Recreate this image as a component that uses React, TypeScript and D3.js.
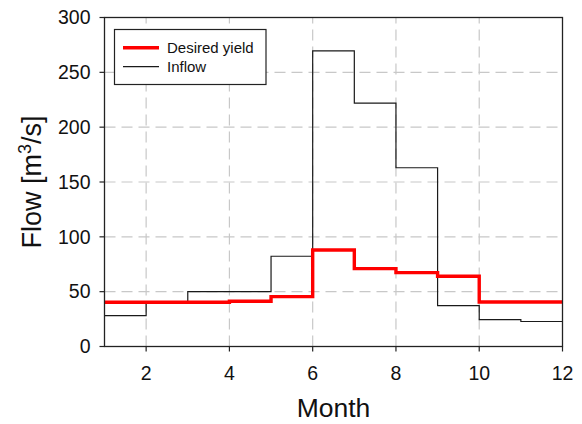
import React from "react";
import * as d3 from "d3";

// Monthly step values (value holds from month m to m+1; last point closes the step at month 12)
const months = [1, 2, 3, 4, 5, 6, 7, 8, 9, 10, 11, 12];
const desiredYield = [40.4, 40.4, 40.4, 41.3, 45.5, 88, 71, 67.4, 64, 40.6, 40.6, 40.6];
const inflow = [28.2, 41, 50, 50, 82.3, 269.5, 222, 163, 37.3, 24.5, 22.8, 22.8];
const xTicks = [2, 4, 6, 8, 10, 12];
const yTicks = [0, 50, 100, 150, 200, 250, 300];
const gridX = [2, 4, 6, 8, 10];
const gridY = [50, 100, 150, 200, 250];

const W = 582;
const H = 424;
const margin = { left: 104.5, right: 582 - 562.5, top: 17.5, bottom: 424 - 346.5 };
const FONT = "'Liberation Sans', Arial, sans-serif";

export default function App() {
  const x = d3.scaleLinear().domain([1, 12]).range([margin.left, W - margin.right]);
  const y = d3.scaleLinear().domain([0, 300]).range([H - margin.bottom, margin.top]);

  const line = d3
    .line<number>()
    .x((_, i) => x(months[i]))
    .y((d) => y(d))
    .curve(d3.curveStepAfter);

  const x0 = x(1);
  const x1 = x(12);
  const y0 = y(0);
  const y1 = y(300);

  return (
    <svg
      width={W}
      height={H}
      style={{ position: "absolute", left: 0, top: 0, background: "#fff" }}
      fontFamily={FONT}
    >
      {/* grid */}
      <g stroke="#c8c8c8" strokeWidth={1.2} strokeDasharray="11,6">
        {gridX.map((v) => (
          <line key={"gx" + v} x1={x(v)} x2={x(v)} y1={y0} y2={y1} />
        ))}
        {gridY.map((v) => (
          <line key={"gy" + v} x1={x0} x2={x1} y1={y(v)} y2={y(v)} />
        ))}
      </g>

      {/* series */}
      <path d={line(inflow) ?? ""} fill="none" stroke="#1a1a1a" strokeWidth={1.2} />
      <path d={line(desiredYield) ?? ""} fill="none" stroke="#ff0000" strokeWidth={3.4} />

      {/* frame */}
      <rect x={x0} y={y1} width={x1 - x0} height={y0 - y1} fill="none" stroke="#222" strokeWidth={1.3} />

      {/* y axis ticks and labels */}
      {yTicks.map((v) => (
        <g key={"yt" + v}>
          <line x1={x0 - 5} x2={x0} y1={y(v)} y2={y(v)} stroke="#222" strokeWidth={1.2} />
          <text x={x0 - 14} y={y(v)} dy="0.35em" textAnchor="end" fontSize={19.5} fill="#111">
            {v}
          </text>
        </g>
      ))}

      {/* x axis ticks and labels */}
      {xTicks.map((v) => (
        <g key={"xt" + v}>
          <line x1={x(v)} x2={x(v)} y1={y0} y2={y0 + 5} stroke="#222" strokeWidth={1.2} />
          <text x={x(v)} y={y0 + 33} textAnchor="middle" fontSize={19.5} fill="#111">
            {v}
          </text>
        </g>
      ))}

      {/* axis titles */}
      <text x={(x0 + x1) / 2} y={417} textAnchor="middle" fontSize={26.5} fill="#111">
        Month
      </text>
      <text
        transform={`translate(41, ${(y0 + y1) / 2}) rotate(-90)`}
        textAnchor="middle"
        fontSize={27}
        fill="#111"
      >
        Flow [m<tspan dy={-10} fontSize={18}>3</tspan>
        <tspan dy={10}>/s]</tspan>
      </text>

      {/* legend */}
      <g>
        <rect x={114.5} y={29.5} width={151.5} height={55} fill="#fff" stroke="#222" strokeWidth={1.2} />
        <line x1={123} x2={159} y1={47.7} y2={47.7} stroke="#ff0000" strokeWidth={3.4} />
        <text x={167} y={47.7} dy="0.35em" fontSize={15} fill="#111">
          Desired yield
        </text>
        <line x1={123} x2={159} y1={66.7} y2={66.7} stroke="#1a1a1a" strokeWidth={1.2} />
        <text x={167} y={66.7} dy="0.35em" fontSize={15} fill="#111">
          Inflow
        </text>
      </g>
    </svg>
  );
}
